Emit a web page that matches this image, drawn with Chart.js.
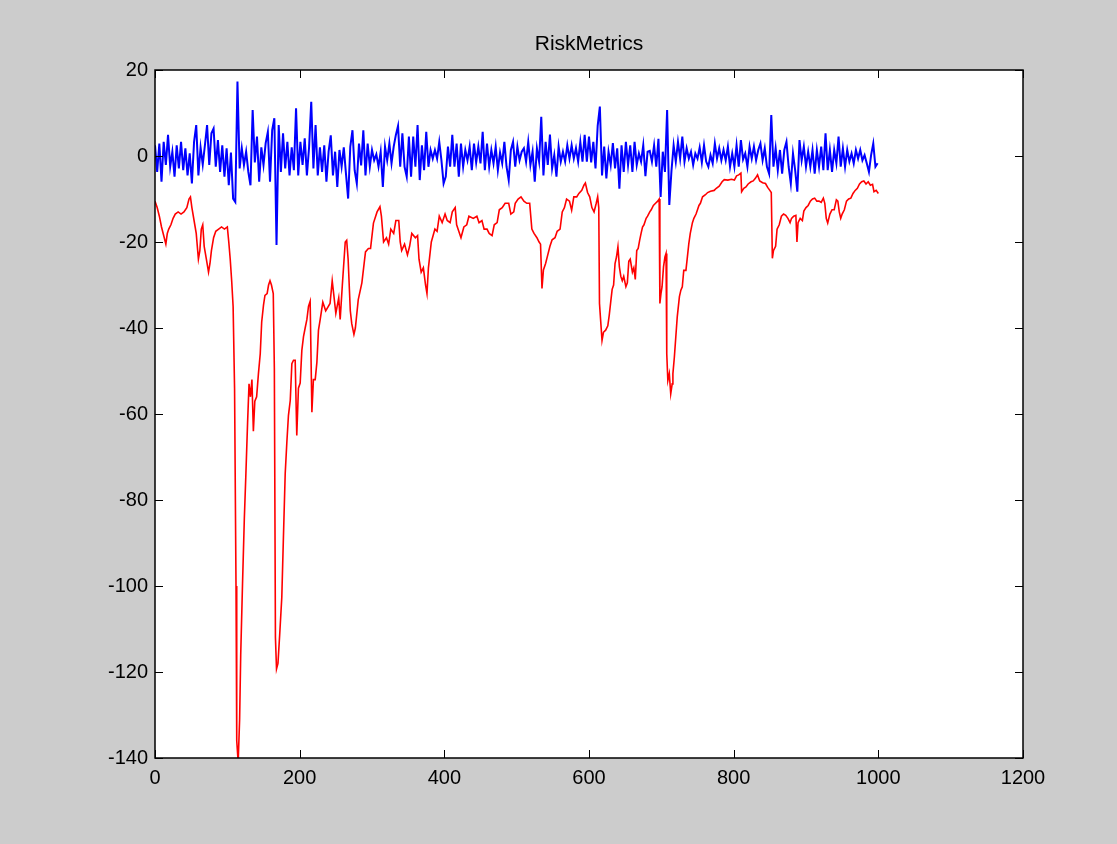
<!DOCTYPE html>
<html>
<head>
<meta charset="utf-8">
<title>RiskMetrics</title>
<script src="https://cdn.jsdelivr.net/npm/chart.js@4.4.1/dist/chart.umd.min.js"></script>
<style>
  html, body { margin: 0; padding: 0; background: #cccccc; }
  #wrap { width: 1117px; height: 844px; }
</style>
</head>
<body>
<div id="wrap"><canvas id="chart" width="1117" height="844"></canvas></div>
<script>
// axis ranges
const X_MIN = 0, X_MAX = 1200, X_STEP = 200;
const Y_MIN = -140, Y_MAX = 20, Y_STEP = 20;

// blue series: returns, sampled every BLUE_STEP observations starting at 0
const BLUE_STEP = 3;
const blueValues = [
  2.5, -3.7, 2.9, -6.0, 3.3, -2.1, 4.9, -2.5, 1.0, -4.8, 2.5, -2.9, 3.3, -3.3, 1.8, -4.5, 0.6, -6.4, 3.3, 7.2,
  -4.5, 2.0, -2.0, 2.5, 7.2, -2.1, 5.3, 6.4, -2.5, 3.7, -3.7, 2.5, -4.8, 1.8, -6.8, 0.8, -9.9, -10.7, 17.3, -2.9,
  1.8, -2.1, 1.0, -3.7, -6.8, 10.7, -1.5, 4.5, -6.0, 2.0, -2.1, 3.0, 5.6, -6.0, 6.0, 8.8, -20.7, 7.2, -3.7, 5.3,
  -2.9, 3.3, -4.5, 2.0, -3.3, 11.1, -4.5, 3.3, -2.1, 4.1, -4.5, 2.0, 12.6, -2.9, 7.2, -4.5, 2.0, -3.7, 2.5, -6.0,
  1.0, 4.8, -4.5, 1.0, -7.2,
  1.4, -2.5, 2.0, -4.1, -9.9, 2.2, 6.0, -3.3, -6.4, 2.9, -2.2, 6.0, -4.5, 2.9, -2.5, 1.4, -1.0, 0.4, -2.5, 1.0,
  -7.2, 2.2, -1.0, 2.9, -1.7, 2.2, 4.9, 7.0, -2.5, 5.3, -2.5, -4.8, 4.5, -4.8, 4.5, -2.5, 7.2, -5.6, 2.5, -3.3,
  5.6, -2.5, 1.4, -0.6, 1.4, -0.6, 3.3, -1.0, -6.4, -4.8, 2.2, -2.5, 4.9, -2.5, 2.9, -4.8, 2.9, -2.5, 1.4, -1.0,
  2.2, -3.3, 2.9, -1.5, 2.2, -1.7, 5.6, -3.3, 2.9, -2.5, 1.4, -1.7, 2.2, -3.3, 0.8, -1.7, 3.3, -2.5, -5.6, 1.4,
  3.3, -2.5, 2.2, -1.0, 1.0,
  1.8, -1.3, 3.3, -2.1, 1.0, -6.0, 1.8, -1.3, 9.1, -4.5, 3.3, -2.1, 5.0, -2.9, 0.2, -4.8, 2.2, -1.3, 1.0, -1.3,
  2.5, -0.6, 2.5, -0.6, 1.8, -1.3, 3.3, -1.3, 4.9, -1.3, 4.5, -1.5, 3.3, -2.9, 7.0, 11.5, -4.5, 2.2, -5.2, 1.0,
  -2.1, 3.0, -2.9, 1.8, -7.6, 2.5, -3.7, 3.3, -2.1, 2.5, -3.7, 3.3, -2.1, 0.6, -1.3, 2.5, -4.7, 1.0, 1.2, -1.3,
  2.5, -2.5, 4.0, -9.5, 1.0, -3.7, 10.7, -11.4, -3.5, 2.5, -1.3, 3.3, -0.6, 4.5, -1.3, 1.8, -0.6, 1.0, -2.1, 0.6,
  -0.6, 2.0, -1.5, 2.5, -1.3,
  -2.5, 0.2, -1.7, 2.9, -0.6, 1.8, -1.0, 1.4, -1.0, 2.2, -2.5, 0.6, -2.5, 2.5, -2.5, 3.7, -0.8, 0.6, -2.5, 2.2,
  -0.6, 2.2, -1.0, 1.4, 2.9, -1.0, 1.8, -2.5, -4.1, 9.5, -2.5, 1.8, -3.3, 1.4, -4.1, 1.4, 3.3, -2.5, -6.4, 0.6,
  -3.3, -8.3, 3.7, -1.0, 2.2, -2.5, 1.0, -2.5, 1.4, -4.1, 1.4, -2.5, 2.2, -3.3, 5.3, -3.3, 1.4, -3.7, 1.4, -1.7,
  4.5, -2.5, 1.8, -2.5, 1.4, -1.3, 0.6, -1.7, 1.4, -0.6, 1.4, -1.0, 0.2, -1.7, -3.7, 0.2, 2.9, -2.5, -1.7
];

// red series: RiskMetrics VaR, observation index and value
const redT = [
  0, 3, 6, 9, 12, 15, 17, 19, 22, 25, 28, 32, 36, 40, 44, 47, 49, 51, 54, 57,
  60, 62, 64, 66, 68, 71, 74, 76, 78, 81, 84, 88, 92, 96, 100, 102, 104, 106, 108, 110,
  112, 113, 115, 117, 118.5, 121, 123.5, 125.5, 128, 130, 132, 134, 136, 138, 140.5, 143, 145.5, 147.5, 150, 152,
  155, 157, 159, 161, 163.5, 165, 166.5, 168, 170, 172.5, 175.3, 177.6, 180, 182.3, 184.5, 187, 189.2, 191.5, 193.8, 196,
  198.3, 200.7, 203, 205.3, 207.6, 210, 212.2, 214.5, 216.9, 219, 221.5, 223.8, 226, 228.4, 232, 236, 242, 245, 247, 250,
  254, 256, 259, 263, 265, 267, 270, 272, 275, 277, 281, 286, 291, 295, 298, 302, 307, 311, 313, 316,
  320, 323, 326, 330, 333, 337, 339, 341, 345, 349, 352, 355, 360, 363, 365, 368, 371, 374, 376, 378,
  382, 387, 390, 393, 397, 401, 404, 408, 411, 415, 417, 420, 423, 427, 431, 434, 440, 445, 448, 452,
  455, 459, 462, 466, 469, 473, 476, 480, 484, 489, 492, 496, 498, 502, 506, 510, 514, 518, 521, 524,
  528, 531, 533, 535, 537, 540, 543, 546, 549, 553, 556, 560, 563, 566, 569, 573, 576, 579, 583, 586,
  590, 593, 595, 598, 601, 604, 607, 610, 612, 613.5, 614.5, 616, 618, 620, 623, 626, 628, 630, 632, 634,
  636, 638, 640, 642, 644, 646, 648, 651, 653, 655, 657, 660, 662, 664, 666, 668, 670, 672, 674, 676,
  679, 681, 684, 686, 689, 692, 695, 697, 698, 699.5, 701, 703, 705, 706.5, 707.5, 709, 711, 713, 715, 716,
  718, 720, 722, 725, 727, 729, 731, 734, 736, 738, 740, 743, 745, 748, 750, 752, 754, 757, 761, 764,
  768, 773, 776, 780, 784, 787, 792, 797, 801, 804, 807, 810, 811, 814, 817, 820, 824, 827, 830, 833,
  836, 840, 844, 847, 850, 852, 853.5, 855, 858, 860, 863, 866, 869, 872, 875, 878, 880, 883, 886, 887.5,
  889, 892, 895, 897, 900, 903, 906, 909, 912, 915, 918, 921, 924, 926, 928, 930, 933, 936, 939, 942,
  944, 946, 948, 950, 953, 956, 959, 962, 965, 968, 971, 974, 977, 980, 983, 986, 989, 992, 994, 997,
  1000
];
const redV = [
  -10.5, -12, -14, -16.5, -18.5, -20.5, -18, -17, -16, -14.5, -13.5, -13, -13.5, -13, -12, -10, -9.5, -12, -15, -18,
  -24, -22, -17, -16, -21, -24, -27, -25, -22, -19, -17.5, -17, -16.5, -17, -16.5, -20, -24, -29, -35, -54,
  -100, -136, -141, -131, -116, -99.5, -84.3, -74.7, -62, -53, -56, -52, -64, -57, -56, -50.6, -46, -38.6, -34.7, -32.4,
  -32, -30, -29, -30, -32, -49.4, -112, -119.3, -118, -111, -102.6, -88.3, -73.9, -66.5, -60.3, -56.8, -48.3, -47.5, -47.5, -65,
  -54, -52.8, -45.2, -42, -40, -38, -35, -33.8, -59.6, -52, -52, -48, -40.5, -38, -34, -36, -34.3, -29, -32, -36.6,
  -33, -38, -30, -20, -19.6, -24, -36, -39, -41.5, -40, -33.4, -29.5, -22.3, -21.5, -21.5, -15.6, -13, -11.8, -14, -20,
  -19, -20.5, -17, -18, -15, -15, -20, -22, -20.5, -23, -21, -18, -19, -18.5, -24, -27, -26, -30, -32, -26,
  -20, -17, -17.5, -14, -15.5, -13.5, -15, -15.5, -13, -12, -16, -17.5, -19, -16.5, -16, -14, -14.5, -14, -15.5, -15,
  -17, -17, -18, -18.5, -16, -15.5, -12.5, -12, -11, -11, -13.5, -13, -11, -10, -9.5, -10.5, -11, -11, -17, -18,
  -19, -20, -20.5, -30.8, -26.5, -25, -23, -21, -19.5, -19, -17.5, -17, -13, -12, -10, -10.5, -12.6, -9.5, -9.5, -8.7,
  -8, -6.8, -6.3, -8.5, -9.5, -12, -13, -11, -9.5, -12, -34.3, -38, -42.9, -41, -40.5, -39.5, -37, -34, -31, -30,
  -25, -23.5, -21.1, -25.8, -28, -29, -28, -30.4, -29.5, -24.5, -24, -27, -26, -28.7, -22, -21.5, -19.6, -18, -16.5, -16,
  -14.5, -14, -13, -12.5, -11.5, -11, -10.5, -10, -34.3, -32, -30.4, -25.8, -23.5, -22.7, -46, -52.2, -50.6, -55.3, -53, -50.6,
  -46.8, -42.1, -37.4, -32.7, -31.2, -30.4, -26.6, -26.6, -23.5, -20.4, -18, -15.5, -14.5, -13.5, -12.5, -11.5, -11, -9.5, -9, -8.5,
  -8.2, -8, -7.5, -7, -6, -5.5, -5.6, -5.4, -5.6, -4.6, -4.4, -4, -8.3, -7.5, -7.2, -6.5, -6, -5.8, -5.2, -4.4,
  -5.8, -6.2, -6.4, -7.3, -8, -8.5, -23.8, -22, -21, -17, -16, -14, -13.5, -13.8, -14.5, -15.5, -14.5, -14, -13.8, -20,
  -15.5, -14.5, -15, -12.8, -12, -11.5, -10.5, -10, -9.8, -10.5, -10.5, -10.8, -9.8, -11, -14.5, -15.6, -13.5, -12.5, -12.5, -10.2,
  -10.5, -13, -14.5, -13.5, -12.5, -10.5, -10, -9.8, -8.7, -8, -7.5, -6.5, -6, -5.8, -6.5, -6, -6.8, -6.6, -8.3, -8,
  -8.7
];

const FONT = { family: "'Liberation Sans', Arial, Helvetica, sans-serif", size: 20 };

// MATLAB-style box: white axes, black frame, ticks pointing inward on all sides
const matlabAxes = {
  id: "matlabAxes",
  beforeDraw(chart) {
    const { ctx, chartArea: a } = chart;
    ctx.save();
    ctx.fillStyle = "#ffffff";
    ctx.fillRect(a.left, a.top, a.right - a.left, a.bottom - a.top);
    ctx.restore();
  },
  afterDatasetsDraw(chart) {
    const { ctx, chartArea: a, scales } = chart;
    const len = 8;
    ctx.save();
    ctx.strokeStyle = "#000000";
    ctx.lineWidth = 1;
    ctx.beginPath();
    scales.x.ticks.forEach((t) => {
      const px = Math.round(scales.x.getPixelForValue(t.value)) + 0.5;
      ctx.moveTo(px, a.bottom);
      ctx.lineTo(px, a.bottom - len);
      ctx.moveTo(px, a.top);
      ctx.lineTo(px, a.top + len);
    });
    scales.y.ticks.forEach((t) => {
      const py = Math.round(scales.y.getPixelForValue(t.value)) + 0.5;
      ctx.moveTo(a.left, py);
      ctx.lineTo(a.left + len, py);
      ctx.moveTo(a.right, py);
      ctx.lineTo(a.right - len, py);
    });
    ctx.stroke();
    ctx.lineWidth = 1.5;
    ctx.strokeRect(a.left, a.top, a.right - a.left, a.bottom - a.top);
    ctx.restore();
  },
};

const redData = redT.map((t, i) => ({ x: t, y: redV[i] }));
const blueData = blueValues.map((v, i) => ({ x: i * BLUE_STEP, y: v }));

new Chart(document.getElementById("chart"), {
  type: "scatter",
  data: {
    datasets: [
      {
        label: "returns",
        data: blueData,
        showLine: true,
        borderColor: "#0000ff",
        borderWidth: 2,
        pointRadius: 0,
        tension: 0,
      },
      {
        label: "VaR",
        data: redData,
        showLine: true,
        borderColor: "#ff0000",
        borderWidth: 1.6,
        pointRadius: 0,
        tension: 0,
      },
    ],
  },
  options: {
    responsive: false,
    animation: false,
    devicePixelRatio: 1,
    events: [],
    layout: { padding: { left: 0, right: 94, top: 0, bottom: 0 } },
    plugins: {
      legend: { display: false },
      tooltip: { enabled: false },
      title: {
        display: true,
        fullSize: false, // centre the title over the axes box only
        text: "RiskMetrics",
        color: "#000000",
        font: { family: FONT.family, size: 21, weight: "normal" },
        padding: { top: 32, bottom: 12.8 },
      },
    },
    scales: {
      x: {
        type: "linear",
        min: X_MIN,
        max: X_MAX,
        ticks: { stepSize: X_STEP, color: "#000000", font: FONT, padding: 8, maxRotation: 0, callback: (v) => String(v) },
        grid: { display: false, drawTicks: false },
        border: { display: false },
        afterFit: (s) => { s.height = 86; },
      },
      y: {
        type: "linear",
        min: Y_MIN,
        max: Y_MAX,
        ticks: { stepSize: Y_STEP, color: "#000000", font: FONT, padding: 7, callback: (v) => String(v) },
        grid: { display: false, drawTicks: false },
        border: { display: false },
        afterFit: (s) => { s.width = 155; },
      },
    },
  },
  plugins: [matlabAxes],
});
</script>
</body>
</html>
